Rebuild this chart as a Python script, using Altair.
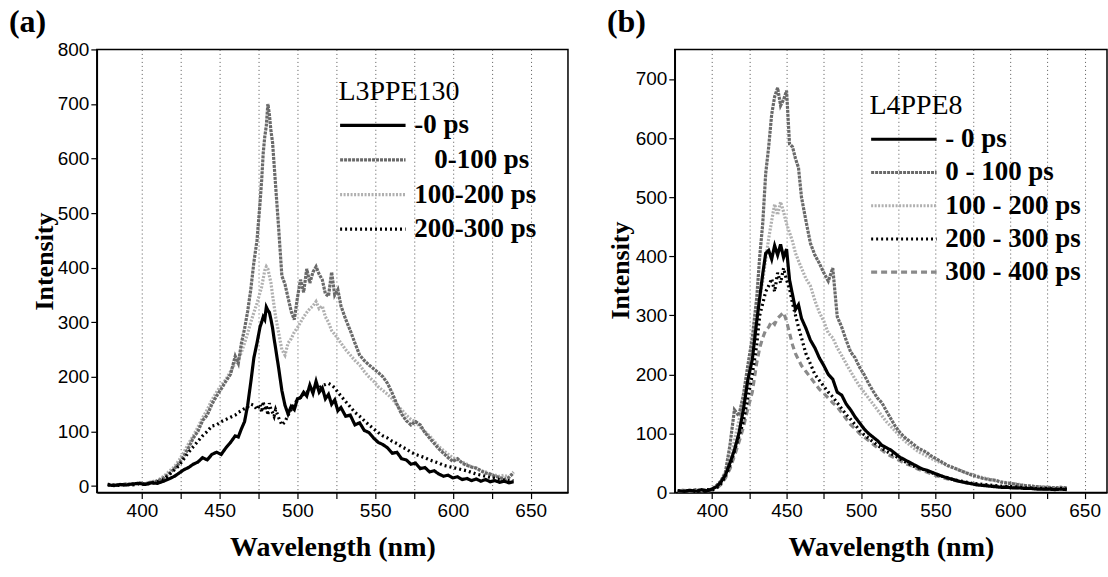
import altair as alt
import pandas as pd

# ---------------- data: panel (a) L3PPE130 ----------------
WL_A = [378, 382, 386, 390, 394, 398, 402, 406, 410, 414,
        418, 421, 424, 427, 430, 433, 436, 439, 442, 445,
        448, 451, 454, 457, 460, 462, 464, 466, 468, 470,
        472, 474, 476, 477, 478, 479, 480, 481, 482, 483,
        484, 485, 486, 488, 490, 492, 494, 496, 498, 500,
        502, 504, 506, 508, 510, 512, 514, 516, 518, 520,
        522, 524, 526, 528, 531, 534, 537, 540, 543, 546,
        549, 552, 555, 558, 561, 564, 567, 570, 573, 576,
        579, 582, 585, 588, 591, 594, 597, 600, 603, 606,
        609, 612, 615, 618, 621, 624, 627, 630, 633, 636,
        639]

A_M0 = [2, 1, 3, 2, 4, 5, 3, 6, 5, 9,
        14, 18, 24, 30, 34, 40, 44, 52, 48, 58,
        62, 58, 70, 80, 92, 90, 105, 118, 148, 190,
        235, 262, 292, 300, 310, 305, 328, 322, 318, 305,
        290, 270, 252, 215, 175, 148, 132, 146, 140, 160,
        162, 172, 165, 185, 170, 192, 172, 180, 160, 168,
        150, 158, 138, 144, 128, 130, 112, 116, 102, 98,
        88, 80, 76, 70, 60, 62, 50, 48, 40, 42,
        32, 34, 26, 28, 22, 18, 20, 15, 17, 12,
        14, 10, 13, 9, 12, 8, 10, 7, 9, 6,
        8]

A_0_100 = [3, 1, 2, 4, 3, 6, 4, 7, 9, 15,
           24, 32, 42, 55, 70, 88, 100, 120, 130, 150,
           165, 178, 192, 205, 238, 225, 262, 288, 320, 360,
           410, 450, 520, 560, 610, 640, 660, 700, 680, 650,
           630, 590, 550, 470, 385, 370, 345, 320, 305, 345,
           378, 355, 398, 372, 392, 402, 388, 378, 352, 348,
           392, 350, 360, 330, 306, 285, 262, 240, 230, 222,
           215, 208, 200, 188, 170, 150, 132, 120, 112, 118,
           112, 98, 88, 78, 68, 60, 52, 45, 50, 42,
           38, 35, 33, 28, 24, 22, 18, 16, 12, 16,
           24]

A_100_200 = [2, 1, 3, 2, 4, 5, 4, 8, 10, 18,
             28, 36, 48, 62, 78, 92, 108, 125, 140, 158,
             172, 185, 195, 210, 225, 232, 245, 262, 280, 300,
             318, 335, 355, 365, 380, 395, 402, 398, 385, 372,
             350, 330, 310, 280, 250, 240, 262, 270, 282, 290,
             300, 310, 318, 325, 330, 338, 325, 330, 310, 300,
             285, 278, 270, 262, 250, 240, 230, 222, 210, 200,
             192, 182, 175, 168, 160, 148, 140, 130, 122, 118,
             108, 100, 92, 82, 72, 65, 58, 52, 48, 44,
             40, 35, 32, 28, 26, 22, 20, 18, 20, 16,
             26]

A_200_300 = [3, 2, 1, 3, 2, 4, 3, 5, 8, 12,
             22, 30, 38, 50, 62, 72, 82, 92, 100, 110,
             112, 118, 122, 126, 130, 135, 138, 142, 145, 150,
             148, 140, 150, 135, 155, 138, 148, 130, 152, 140,
             135, 128, 140, 125, 112, 118, 130, 140, 150, 158,
             162, 168, 172, 175, 178, 182, 180, 184, 186, 188,
             185, 180, 172, 165, 155, 145, 135, 128, 120, 112,
             105, 98, 92, 88, 82, 78, 72, 68, 62, 58,
             55, 52, 48, 45, 42, 38, 36, 34, 32, 30,
             28, 25, 22, 20, 18, 16, 14, 12, 11, 10,
             10]

# ---------------- data: panel (b) L4PPE8 ----------------
WL_B = [377, 381, 385, 389, 393, 397, 400, 403, 406, 409,
        412, 415, 418, 421, 424, 427, 430, 432, 434, 436,
        438, 440, 442, 444, 446, 448, 450, 452, 454, 456,
        458, 460, 463, 466, 469, 472, 475, 478, 481, 484,
        487, 490, 493, 496, 499, 502, 505, 508, 511, 514,
        517, 520, 523, 526, 529, 532, 535, 538, 541, 544,
        547, 550, 554, 558, 562, 566, 570, 574, 578, 582,
        586, 590, 594, 598, 602, 606, 610, 614, 618, 622,
        626, 630, 634, 638]

B_M0 = [3, 2, 4, 2, 5, 3, 6, 10, 18, 30,
        50, 72, 100, 140, 190, 225, 290, 330, 370, 405,
        410, 395, 418, 402, 420, 398, 412, 360, 335, 310,
        318, 295, 278, 258, 245, 228, 215, 200, 192, 170,
        165, 150, 140, 128, 118, 108, 100, 94, 88, 80,
        76, 72, 66, 60, 56, 52, 48, 44, 40, 38,
        35, 32, 28, 25, 22, 19, 17, 15, 13, 12,
        11, 10, 9, 9, 8, 8, 7, 7, 6, 6,
        6, 5, 6, 5]

B_0_100 = [3, 4, 2, 5, 3, 4, 6, 12, 20, 35,
           80, 140, 130, 165, 215, 262, 330, 400, 455, 540,
           585, 640, 670, 685, 655, 665, 680, 590, 585, 565,
           550, 500, 460, 422, 402, 388, 372, 358, 380, 298,
           280, 258, 238, 228, 212, 200, 185, 172, 160, 152,
           138, 125, 112, 102, 94, 88, 82, 76, 72, 68,
           62, 58, 52, 46, 42, 38, 34, 30, 27, 24,
           22, 21, 18, 16, 15, 13, 12, 11, 10, 9,
           9, 8, 9, 8]

B_100_200 = [2, 4, 3, 2, 5, 3, 5, 10, 18, 30,
             52, 88, 122, 150, 195, 235, 300, 330, 358, 395,
             430, 460, 488, 470, 492, 475, 455, 440, 425, 405,
             392, 380, 362, 350, 325, 305, 290, 270, 262, 245,
             232, 218, 205, 192, 180, 170, 160, 150, 140, 130,
             120, 112, 104, 96, 88, 82, 76, 70, 66, 62,
             58, 54, 50, 46, 42, 38, 34, 31, 28, 25,
             23, 20, 18, 17, 15, 14, 12, 11, 10, 10,
             9, 8, 9, 8]

B_200_300 = [3, 2, 4, 3, 2, 5, 4, 8, 15, 28,
             45, 70, 95, 120, 160, 200, 250, 300, 320, 340,
             350, 362, 340, 372, 355, 380, 360, 345, 320, 300,
             280, 262, 235, 218, 200, 190, 180, 170, 162, 152,
             142, 132, 124, 115, 105, 98, 92, 86, 80, 75,
             70, 66, 62, 57, 53, 49, 45, 42, 40, 37,
             34, 31, 28, 25, 22, 20, 18, 16, 15, 14,
             13, 12, 11, 10, 10, 9, 8, 8, 7, 7,
             7, 6, 7, 6]

B_300_400 = [2, 3, 2, 4, 3, 2, 4, 7, 14, 25,
             40, 62, 85, 110, 142, 170, 220, 245, 262, 275,
             280, 290, 285, 295, 300, 305, 290, 270, 250, 235,
             225, 215, 205, 195, 185, 175, 168, 160, 152, 145,
             135, 125, 115, 108, 100, 94, 88, 82, 76, 72,
             66, 62, 58, 54, 50, 47, 44, 40, 37, 35,
             32, 29, 26, 23, 21, 19, 17, 15, 14, 13,
             12, 11, 10, 10, 9, 8, 8, 7, 7, 6,
             6, 6, 7, 6]

SERIES_A = ["-0 ps", "\u28000-100 ps", "100-200 ps", "200-300 ps"]
SERIES_B = ["- 0 ps", "0 - 100 ps", "100 - 200 ps", "200 - 300 ps", "300 - 400 ps"]

# styles (kept apart from the data)
COLORS = ["#000000", "#6a6a6a", "#b0b0b0", "#000000", "#8a8a8a"]
DASHES = [[1, 0], [3, 1], [2, 1.5], [2, 3], [6, 4]]
WIDTHS = [3.2, 3.2, 3.2, 2.4, 1.8]


def long_df(wl, series_names, arrays, draw_order):
    rows = []
    for idx in draw_order:
        vals = arrays[idx]
        assert len(vals) == len(wl), (series_names[idx], len(vals), len(wl))
        for w, v in zip(wl, vals):
            rows.append({"wl": w, "val": v, "series": series_names[idx]})
    return pd.DataFrame(rows)


df_a = long_df(WL_A, SERIES_A, [A_M0, A_0_100, A_100_200, A_200_300], [2, 1, 3, 0])
df_b = long_df(WL_B, SERIES_B, [B_M0, B_0_100, B_100_200, B_200_300, B_300_400], [2, 1, 4, 3, 0])

SERIF = "Liberation Serif"
SANS = "Liberation Sans"


def panel(df, series, xdom, ydom, yvals, width, ltitle, lx, ly, rowpad, ptitle, pdx, pdy, ytx, yty):
    n = len(series)
    legend = alt.Legend(
        title=ltitle, orient="none", legendX=lx, legendY=ly,
        symbolType="stroke", symbolSize=4300, clipHeight=30, rowPadding=rowpad,
        titlePadding=4, labelOffset=7, padding=0,
        labelFont=SERIF, labelFontSize=27, labelFontWeight="bold", labelColor="black",
        labelLimit=0,
        titleFont=SERIF, titleFontSize=28, titleFontWeight="normal", titleColor="black",
        titleLimit=0,
    )
    return alt.Chart(df).mark_line(clip=True, strokeJoin="miter").encode(
        x=alt.X("wl:Q",
                scale=alt.Scale(domain=xdom, nice=False, zero=False),
                axis=alt.Axis(values=list(range(400, 651, 25)),
                              labelExpr="datum.value % 50 == 0 ? datum.label : ''",
                              title="Wavelength (nm)", titleFontSize=28, titlePadding=13,
                              grid=True, gridDash=[1, 3], gridColor="#555555",
                              gridWidth=1, labelPadding=3)),
        y=alt.Y("val:Q",
                scale=alt.Scale(domain=ydom, nice=False, zero=False),
                axis=alt.Axis(values=yvals, title="Intensity", grid=False,
                              titleFontSize=26, titleX=ytx, titleY=yty,
                              titleAngle=270, titleAlign="center",
                              titleBaseline="bottom", labelPadding=2)),
        color=alt.Color("series:N", scale=alt.Scale(domain=series, range=COLORS[:n]), legend=legend),
        strokeDash=alt.StrokeDash("series:N", scale=alt.Scale(domain=series, range=DASHES[:n]), legend=legend),
        strokeWidth=alt.StrokeWidth("series:N", scale=alt.Scale(domain=series, range=WIDTHS[:n]), legend=legend),
    ).properties(
        width=width, height=444,
        title=alt.TitleParams(ptitle, anchor="start", frame="group", dx=pdx, dy=pdy, offset=7,
                              font=SERIF, fontSize=32, fontWeight="bold", color="black"),
    )


pa = panel(df_a, SERIES_A, [371, 674], [-12, 800], list(range(0, 801, 100)), 472,
           "L3PPE130", 242, 29, 4.7, "(a)", -88, 6, -39, 212)
pb = panel(df_b, SERIES_B, [375, 665], [0, 750], list(range(0, 701, 100)), 433,
           "L4PPE8", 195, 43, 3.3, "(b)", -68, -3, -41, 221)

chart = alt.hconcat(pa, pb, spacing=107, bounds="flush", background="white",
                    padding={"left": 8, "top": 5, "right": 0, "bottom": 4}).resolve_scale(
    x="independent", y="independent", color="independent",
    strokeDash="independent", strokeWidth="independent",
).resolve_legend(
    color="independent", strokeDash="independent", strokeWidth="independent",
).configure_view(
    stroke="black", strokeWidth=1.5,
).configure_axis(
    labelFont=SANS, labelFontSize=19, labelColor="black",
    titleFont=SERIF, titleFontWeight="bold", titleColor="black",
    domainColor="black", domainWidth=1.5, tickColor="black", tickWidth=1.2, tickSize=6,
)

chart.save("out.html", embed_options={"renderer": "svg", "actions": False})
